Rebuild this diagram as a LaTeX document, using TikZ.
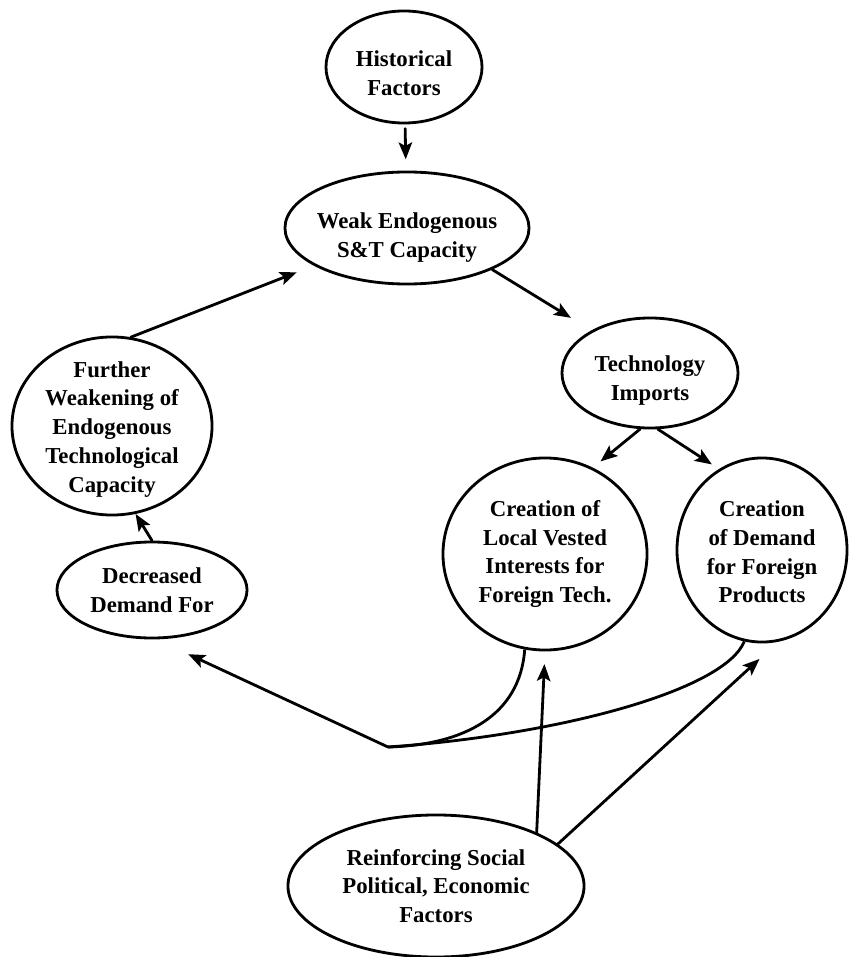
\documentclass[tikz,border=0pt]{standalone}
\usepackage{fontspec}
\setmainfont{Liberation Serif}
\usetikzlibrary{positioning, shapes.geometric, arrows.meta}
\newcommand{\pushdown}[1]{\rule{0pt}{#1}}

\begin{document}
\begin{tikzpicture}[x=0.025cm, y=-0.025cm, line width=2pt,
    >={Stealth[length=12pt, width=9.5pt, inset=2.5pt]},
    blob/.style={draw, ellipse, inner sep=-8pt, align=center,
      font=\fontsize{16.2}{20.5}\selectfont\bfseries},
    link/.style={->, line cap=round}]
  \useasboundingbox (0,0) rectangle (850,957);
  \node[blob, minimum width=3.9cm, minimum height=2.8cm] (hist) at (404,67) {\pushdown{19.5pt}Historical\\Factors};
  \node[blob, minimum width=6.1cm, minimum height=2.8cm] (weak) at (407,228) {\pushdown{25pt}Weak Endogenous\\S\&T Capacity};
  \node[blob, minimum width=4.4cm, minimum height=2.75cm] (tech) at (650,373) {\pushdown{22.5pt}Technology\\Imports};
  \node[blob, minimum width=5cm, minimum height=4.45cm] (fw) at (112,426) {\pushdown{16pt}Further\\Weakening of\\Endogenous\\Technological\\Capacity};
  \node[blob, minimum width=4.75cm, minimum height=2.4cm] (decr) at (152,590) {Decreased\\Demand For};
  \node[blob, minimum width=5.1cm, minimum height=4.8cm] (vest) at (545,554) {Creation of\\Local Vested\\Interests for\\Foreign Tech.};
  \node[blob, minimum width=4.25cm, minimum height=4.6cm] (fdem) at (762,550) {\pushdown{14pt}Creation\\of Demand\\for Foreign\\Products};
  \node[blob, minimum width=7.4cm, minimum height=3.55cm] (reinf) at (436,886) {Reinforcing Social\\Political, Economic\\Factors};
  \coordinate (j) at (388,747);
  \draw[link, shorten <=3pt, shorten >=8pt] (hist) -- (weak);
  \draw[link, shorten >=17pt] (weak.-26) -- (tech.144);
  \draw[link, shorten >=13pt] (fw.78) -- (weak.202);
  \draw[link] (decr.north) -- (fw.-75);
  \draw[link, shorten >=7pt] (tech.-100) -- (vest.61);
  \draw[link, shorten >=6pt] (tech.-82) -- (fdem.118);
  \draw[link, shorten >=9pt] (reinf.28) -- (vest.south);
  \draw[link, shorten >=18pt] (reinf.19) -- (fdem.-80);
  % both "creation" loops join and feed back
  \draw (vest.-102) .. controls (520,715) and (465,745) .. (j);
  \draw (fdem.-101) .. controls (725,690) and (560,735) .. (j);
  \draw[link, shorten >=25pt] (j) -- (decr.-85);
\end{tikzpicture}
\end{document}
